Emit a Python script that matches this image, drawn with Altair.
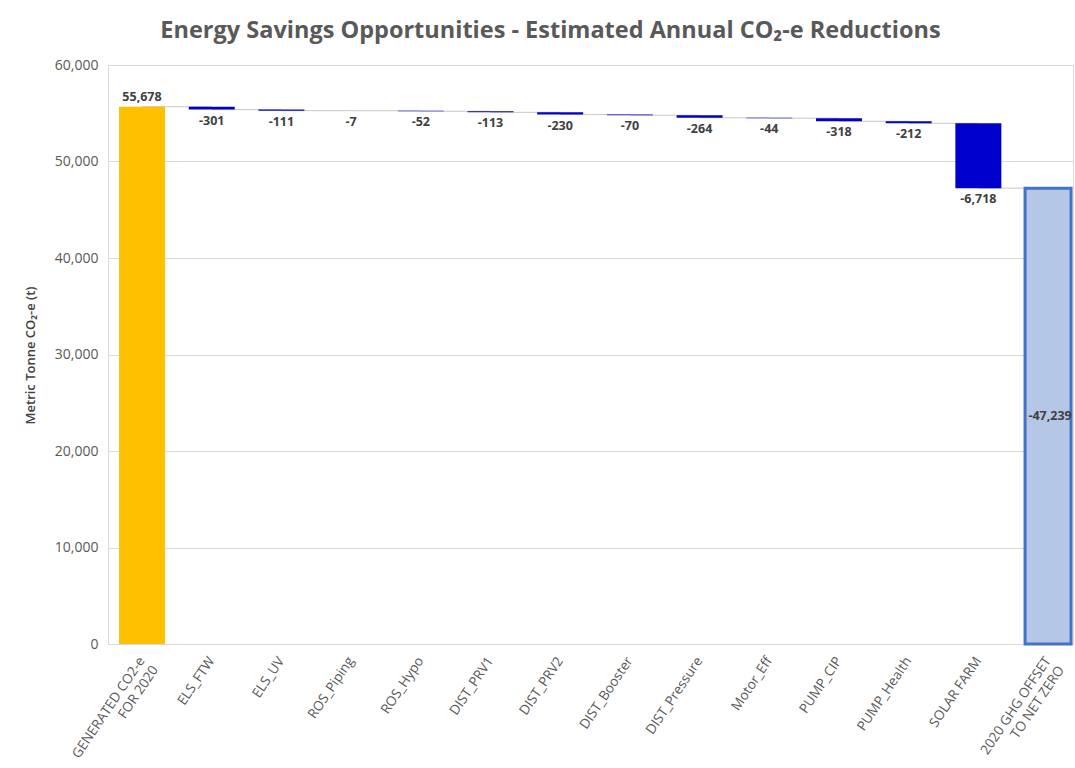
import altair as alt
import pandas as pd

categories = [
    "GENERATED CO2-e|FOR 2020", "ELS_FTW", "ELS_UV", "ROS_Piping", "ROS_Hypo",
    "DIST_PRV1", "DIST_PRV2", "DIST_Booster", "DIST_Pressure", "Motor_Eff",
    "PUMP_CIP", "PUMP_Health", "SOLAR FARM", "2020 GHG OFFSET|TO NET ZERO",
]
values = [55678, -301, -111, -7, -52, -113, -230, -70, -264, -44, -318, -212, -6718, -47239]
kinds = ["start"] + ["step"] * 12 + ["total"]
y_ticks = [0, 10000, 20000, 30000, 40000, 50000, 60000]

rows = []
running = 0
for i, (c, v, k) in enumerate(zip(categories, values, kinds)):
    if k == "start":
        s, e = 0, v
        running = v
    elif k == "step":
        s, e = running, running + v
        running = e
    else:
        s, e = 0, -v
    rows.append({
        "cat": c, "start": s, "end": e, "kind": k,
        "label": f"{v:,}",
        "mid": (s + e) / 2,
        "next": categories[i + 1] if i + 1 < len(categories) else None,
    })
df = pd.DataFrame(rows)

FONT = "Open Sans"
xscale = alt.Scale(paddingInner=0.34, paddingOuter=0.093, align=0.85)
xaxis = alt.Axis(
    labelAngle=304, labelAlign="right", labelBaseline="middle",
    labelExpr="split(datum.label, '|')", labelLineHeight=16,
    ticks=False, domainColor="#D9D9D9", labelPadding=14,
    labelFontSize=13.5, labelColor="#595959", labelFont=FONT,
)
yscale = alt.Scale(domain=[0, 60000])
YTITLE = "Metric Tonne CO₂-e (t)"
yaxis = alt.Axis(
    values=y_ticks, format=",.0f",
    ticks=False, domainColor="#D9D9D9", gridColor="#D9D9D9",
    labelFontSize=14, labelColor="#595959", labelFont=FONT, labelPadding=10,
    titleFontSize=13, titleColor="#404040", titleFont=FONT, titleFontWeight=600,
    titleX=-78, titleY=290, titleAngle=270, titleAlign="center", titleBaseline="middle",
)


def X():
    return alt.X("cat:N", sort=categories, scale=xscale, title=None, axis=xaxis)


def Y(field):
    return alt.Y(field, scale=yscale, title=YTITLE, axis=yaxis)


base = alt.Chart(df)

connectors = base.transform_filter("datum.kind != 'total'").mark_rule(
    color="#C8C8C8", strokeWidth=1
).encode(x=X(), x2="next:N", y=Y("end:Q"))

bars = base.transform_filter("datum.kind != 'total'").mark_bar().encode(
    x=X(), y=Y("start:Q"), y2="end:Q",
    color=alt.Color("kind:N", scale=alt.Scale(domain=["start", "step"], range=["#FFC000", "#0000CC"]), legend=None),
)

total_bar = base.transform_filter("datum.kind == 'total'").mark_bar(
    color="#B4C7E7", stroke="#4472C4", strokeWidth=3
).encode(x=X(), y=Y("start:Q"), y2="end:Q")

text_style = dict(font=FONT, fontSize=12.5, fontWeight="bold", color="#404040")

lbl_start = base.transform_filter("datum.kind == 'start'").mark_text(
    baseline="bottom", dy=-3, **text_style
).encode(x=X(), y=Y("end:Q"), text="label:N")

lbl_step = base.transform_filter("datum.kind == 'step'").mark_text(
    baseline="top", dy=5, **text_style
).encode(x=X(), y=Y("end:Q"), text="label:N")

lbl_total = base.transform_filter("datum.kind == 'total'").mark_text(
    baseline="middle", dx=2, **text_style
).encode(x=X(), y=Y("mid:Q"), text="label:N")

chart = alt.layer(connectors, bars, total_bar, lbl_start, lbl_step, lbl_total).properties(
    width=965, height=579,
    padding={"left": 108, "top": 65, "right": 2, "bottom": 118},
    autosize=alt.AutoSizeParams(type="none"),
    title=alt.TitleParams(
        "Energy Savings Opportunities - Estimated Annual CO₂-e Reductions",
        font=FONT, fontSize=23.5, fontWeight="bold", color="#595959",
        anchor="middle", dx=-40, offset=16,
    ),
).configure_view(stroke=None).configure(background="white")

chart.save("out.html", embed_options={"renderer": "svg", "actions": False})
